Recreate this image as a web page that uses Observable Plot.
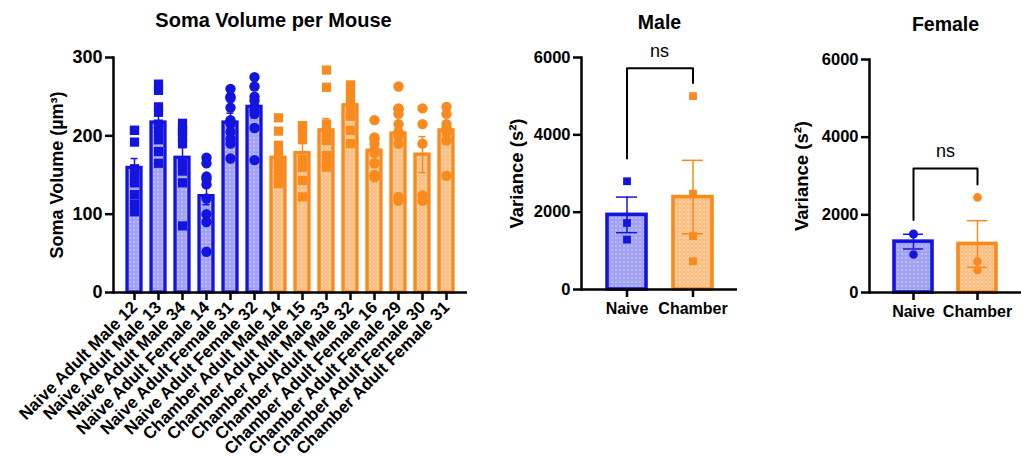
<!DOCTYPE html>
<html><head><meta charset="utf-8">
<script src="https://cdn.jsdelivr.net/npm/d3@7"></script>
<script src="https://cdn.jsdelivr.net/npm/@observablehq/plot@0.6"></script>
<style>
body{margin:0;background:#fff;}
#wrap{position:relative;width:1021px;height:472px;overflow:hidden;font-family:"Liberation Sans",Arial,sans-serif;}
#wrap > div{position:absolute;top:0;}
</style></head><body>
<svg width="0" height="0" style="position:absolute">
<defs>
<pattern id="pb" width="4" height="4" patternUnits="userSpaceOnUse"><rect width="4" height="4" fill="#a2a2f4"/><circle cx="2" cy="2" r="0.8" fill="#d8d8fc"/></pattern>
<pattern id="po" width="4" height="4" patternUnits="userSpaceOnUse"><rect width="4" height="4" fill="#fbc085"/><circle cx="2" cy="2" r="0.8" fill="#fee2c4"/></pattern>
</defs></svg>
<div id="wrap"><div id="p1" style="left:0"></div><div id="p2" style="left:490px"></div><div id="p3" style="left:760px"></div></div>
<script>
// ---------- data ----------
const mice = ["Naive Adult Male 12","Naive Adult Male 13","Naive Adult Male 34","Naive Adult Female 14","Naive Adult Female 31","Naive Adult Female 32","Chamber Adult Male 14","Chamber Adult Male 15","Chamber Adult Male 33","Chamber Adult Male 32","Chamber Adult Female 16","Chamber Adult Female 29","Chamber Adult Female 30","Chamber Adult Female 31"];
const mouseGroup = ["Naive","Naive","Naive","Naive","Naive","Naive","Chamber","Chamber","Chamber","Chamber","Chamber","Chamber","Chamber","Chamber"];
const mouseSex = ["Male","Male","Male","Female","Female","Female","Male","Male","Male","Male","Female","Female","Female","Female"];
const mouseMean = [159,217,172,123,217,237,172,178,207,239,181,203,176,207];
const mouseSem = [12,13,13,11,12,14,11,14,15,11,6,7,23,7];
const mousePoints = [
  [207,207,192,158,150,140,125,113,103],
  [266,258,237,230,215,210,205,195,180,165],
  [216,208,205,198,190,165,155,140,85],
  [172,165,148,145,138,120,100,90,52],
  [260,250,248,236,220,215,205,196,190,171],
  [275,263,250,245,237,232,228,210,169],
  [223,206,188,178,170,160,150,145,139],
  [213,212,208,205,195,170,160,143,122],
  [284,262,215,205,200,194,175,165,160],
  [265,262,255,248,240,230,225,207,190],
  [220,198,196,190,182,178,165,150,147],
  [263,235,234,228,215,205,200,190,122,117],
  [235,215,190,124,117],
  [237,228,215,210,208,205,194,149]
];
const somaTicks = [0,100,200,300];

const groups = ["Naive","Chamber"];
const maleVarPoints = [[2800,1720,1290],[5000,2480,1380,730]];
const maleVarMean = [1930,2390];
const maleVarSem = [460,950];
const maleBracket = [3390,5720,5340]; // naive start, top, chamber end
const femaleVarPoints = [[1510,1500,980],[2450,800,580]];
const femaleVarMean = [1310,1250];
const femaleVarSem = [190,600];
const femaleBracket = [1870,3190,2780];
const varTicks = [0,2000,4000,6000];

const titles = ["Soma Volume per Mouse","Male","Female"];
const yLabels = ["Soma Volume (µm³)","Variance (s²)","Variance (s²)"];

// ---------- style ----------
const BLUE = "#1414e0", ORANGE = "#f88a1e";
const FONT = "'Liberation Sans', Arial, sans-serif";
const color = {domain: groups, range: [BLUE, ORANGE]};
const fillFor = {Naive: "url(#pb)", Chamber: "url(#po)"};

// ---------- panel 1 ----------
const rows = mice.map((m,i)=>({mouse:m, group:mouseGroup[i], sex:mouseSex[i], mean:mouseMean[i], sem:mouseSem[i]}));
const pts = mice.flatMap((m,i)=>mousePoints[i].map(v=>({mouse:m, group:mouseGroup[i], sex:mouseSex[i], v})));

const p1 = Plot.plot({
  width: 490, height: 472,
  marginLeft: 113, marginRight: 23, marginTop: 57, marginBottom: 180,
  style: {fontFamily: FONT, color: "#000", overflow: "visible"},
  x: {domain: mice, paddingInner: 0.43, paddingOuter: 0.47, label: null},
  y: {domain: [0,300], label: null},
  color, symbol: {domain: ["Male","Female"], range: ["square","circle"]},
  marks: [
    ...groups.map(g => Plot.barY(rows.filter(d=>d.group===g), {x:"mouse", y:"mean", fill: fillFor[g], stroke:"group", strokeWidth:3.3})),
    Plot.ruleX(rows, {x:"mouse", y1:d=>d.mean-d.sem, y2:d=>d.mean+d.sem, stroke:"group", strokeWidth:1.5}),
    Plot.tickY(rows, {x:"mouse", y:d=>d.mean+d.sem, stroke:"group", strokeWidth:1.5, insetLeft:3.5, insetRight:3.5}),
    Plot.tickY(rows, {x:"mouse", y:d=>d.mean-d.sem, stroke:"group", strokeWidth:1.5, insetLeft:3.5, insetRight:3.5}),
    Plot.dot(pts, {x:"mouse", y:"v", symbol:"sex", fill:"group", r:5.2}),
    Plot.axisY({ticks: somaTicks, tickFormat: "d", tickSize: 8, strokeWidth: 2.5, fontSize: 18, fontWeight: "bold", tickPadding: 3, label: null}),
    Plot.axisX({tickSize: 8, strokeWidth: 2.5, tickRotate: -45, fontSize: 17, fontWeight: "bold", tickPadding: 4, label: null}),
    Plot.ruleY([0], {strokeWidth: 2.5}),
    Plot.frame({anchor: "left", strokeWidth: 2.5}),
    Plot.text([titles[0]], {frameAnchor: "top", lineAnchor: "middle", dy: -37, dx: -17, fontSize: 20, fontWeight: "bold"}),
    Plot.text([yLabels[0]], {frameAnchor: "left", textAnchor: "middle", lineAnchor: "middle", dx: -56, rotate: -90, fontSize: 18, fontWeight: "bold"})
  ]
});
document.getElementById("p1").appendChild(p1);

// ---------- variance panels ----------
function varPanel(opts) {
  const {title, ylabel, points, mean, sem, bracket, sym, width, mL, mR, mT, mB, ylabDx} = opts;
  const r = groups.map((g,i)=>({group:g, mean:mean[i], sem:sem[i]}));
  const p = groups.flatMap((g,i)=>points[i].map(v=>({group:g, v})));
  const br = [{group:"Naive", v:bracket[0]},{group:"Naive", v:bracket[1]},{group:"Chamber", v:bracket[1]},{group:"Chamber", v:bracket[2]}];
  return Plot.plot({
    width, height: 472,
    marginLeft: mL, marginRight: mR, marginTop: mT, marginBottom: mB,
    style: {fontFamily: FONT, color: "#000", overflow: "visible"},
    x: {domain: groups, paddingInner: 0.41, paddingOuter: 0.38, label: null},
    y: {domain: [0,6000], label: null},
    color,
    marks: [
      ...groups.map(g => Plot.barY(r.filter(d=>d.group===g), {x:"group", y:"mean", fill: fillFor[g], stroke:"group", strokeWidth:3.6})),
      Plot.ruleX(r, {x:"group", y1:d=>d.mean-d.sem, y2:d=>d.mean+d.sem, stroke:"group", strokeWidth:1.5}),
      Plot.tickY(r, {x:"group", y:d=>d.mean+d.sem, stroke:"group", strokeWidth:1.5, insetLeft:9, insetRight:9}),
      Plot.tickY(r, {x:"group", y:d=>d.mean-d.sem, stroke:"group", strokeWidth:1.5, insetLeft:9, insetRight:9}),
      Plot.dot(p, {x:"group", y:"v", symbol: sym, fill:"group", r: sym === "square" ? 4.4 : 4.3}),
      Plot.line(br, {x:"group", y:"v", stroke:"#000", strokeWidth:2}),
      Plot.text(["ns"], {y: [bracket[1]], dy: -17, fontSize: 18, fontWeight: "normal"}),
      Plot.axisY({ticks: varTicks, tickFormat: "d", tickSize: 8, strokeWidth: 2.5, fontSize: 16.5, fontWeight: "bold", tickPadding: 3, label: null}),
      Plot.axisX({tickSize: 8, strokeWidth: 2.5, fontSize: 16, fontWeight: "bold", tickPadding: 5, label: null}),
      Plot.ruleY([0], {strokeWidth: 2.5}),
      Plot.frame({anchor: "left", strokeWidth: 2.5}),
      Plot.text([title], {frameAnchor: "top", lineAnchor: "middle", dy: -35, fontSize: 19.5, fontWeight: "bold"}),
      Plot.text([ylabel], {frameAnchor: "left", textAnchor: "middle", lineAnchor: "middle", dx: ylabDx, rotate: -90, fontSize: 18.5, fontWeight: "bold"})
    ]
  });
}
document.getElementById("p2").appendChild(varPanel({title: titles[1], ylabel: yLabels[1], points: maleVarPoints, mean: maleVarMean, sem: maleVarSem, bracket: maleBracket, sym: "square", width: 260, mL: 91, mR: 13, mT: 57, mB: 183, ylabDx: -64}));
document.getElementById("p3").appendChild(varPanel({title: titles[2], ylabel: yLabels[2], points: femaleVarPoints, mean: femaleVarMean, sem: femaleVarSem, bracket: femaleBracket, sym: "circle", width: 261, mL: 109, mR: 0, mT: 59, mB: 180, ylabDx: -67}));
</script>
</body></html>
